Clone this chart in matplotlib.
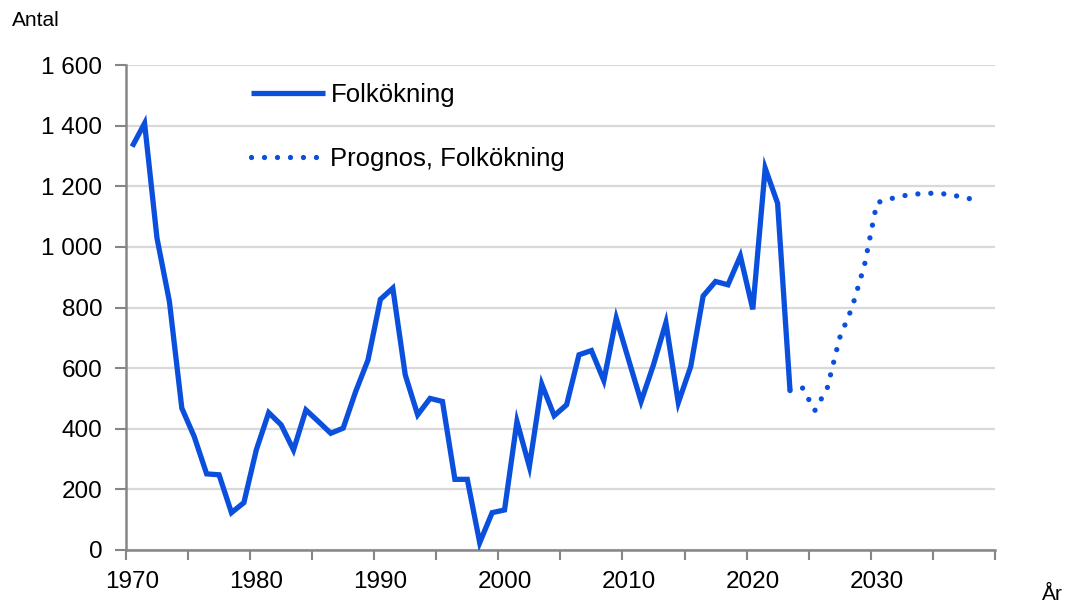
import matplotlib
matplotlib.use('Agg')
import matplotlib.pyplot as plt
from matplotlib.ticker import FuncFormatter, FixedLocator

# historical population increase (Antal), 1970-2023
years = list(range(1970, 2024))
folkokning = [1331, 1408, 1029, 820, 468, 374, 251, 248, 123, 156,
              330, 453, 413, 330, 462, 424, 385, 402, 522, 627,
              827, 864, 578, 446, 500, 490, 233, 233, 24, 123,
              132, 424, 275, 547, 443, 479, 644, 658, 559, 765,
              627, 490, 611, 750, 486, 605, 838, 886, 875, 970,
              794, 1260, 1144, 526]

# forecast 2023-2038
prog_years = list(range(2023, 2039))
prognos = [526, 535, 460, 534, 700, 800, 940, 1146, 1158, 1168,
           1174, 1177, 1177, 1172, 1163, 1155]

label_years = [1970, 1980, 1990, 2000, 2010, 2020, 2030]
yticks = [0, 200, 400, 600, 800, 1000, 1200, 1400, 1600]

blue = '#0B50DC'
grid_col = '#D9D9D9'
axis_col = '#868686'

plt.rcParams['font.family'] = ['Liberation Sans', 'DejaVu Sans']

fig = plt.figure(figsize=(10.72, 6.03), dpi=100)
ax = fig.add_axes([0.1175, 0.088, 0.8105, 0.804])

ax.plot(years, folkokning, color=blue, lw=3.8, solid_joinstyle='miter',
        solid_capstyle='butt', label='Folkökning', zorder=3)
ax.plot(prog_years, prognos, color=blue, lw=3.8, linestyle=(0, (0.01, 2.45)),
        dash_capstyle='round', label='Prognos, Folkökning', zorder=3)

ax.set_xlim(1969.5, 2039.5)
ax.set_ylim(0, 1600)

ax.set_yticks(yticks)
ax.yaxis.set_major_formatter(FuncFormatter(lambda v, p: f'{int(v):,}'.replace(',', ' ')))
ax.grid(axis='y', color=grid_col, lw=1.6, zorder=0)

# x: tick marks every 5 years between categories, labels every 10 years
ax.xaxis.set_major_locator(FixedLocator([y - 0.5 for y in range(1970, 2041, 5)]))
ax.set_xticklabels([])
ax.xaxis.set_minor_locator(FixedLocator(label_years))
ax.set_xticklabels([str(y) for y in label_years], minor=True)
ax.tick_params(axis='x', which='minor', length=0, pad=15, labelsize=17.5)
ax.tick_params(axis='x', which='major', length=7, width=1.5, color=axis_col, direction='out')
ax.tick_params(axis='y', length=8, width=1.5, color=axis_col, pad=9, labelsize=17.5)

for s in ['top', 'right']:
    ax.spines[s].set_visible(False)
for s in ['left', 'bottom']:
    ax.spines[s].set_color(axis_col)
    ax.spines[s].set_linewidth(1.8)
ax.set_axisbelow(True)

ax.legend(loc='upper left', bbox_to_anchor=(0.123, 1.0), frameon=False,
          fontsize=18.5, handlelength=2.9, handletextpad=0.2, labelspacing=1.55,
          borderaxespad=0.3)

fig.text(12 / 1072, 1 - 20 / 603, 'Antal', fontsize=15, va='center', ha='left')
fig.text(1042 / 1072, 1 - 595 / 603, 'År', fontsize=15, va='center', ha='left')

fig.savefig('out.png', dpi=100)
